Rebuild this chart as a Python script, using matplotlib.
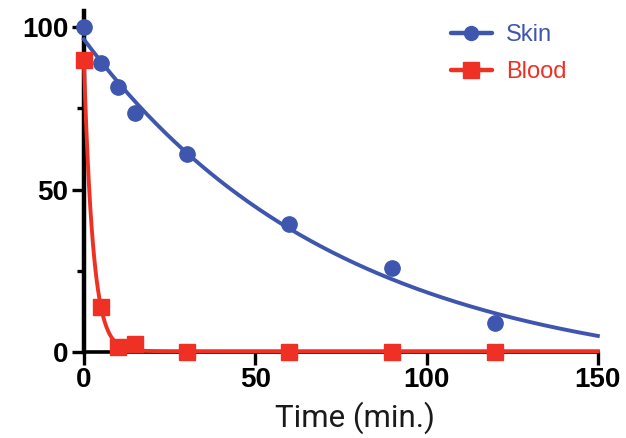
import numpy as np
import matplotlib
matplotlib.use("Agg")
import matplotlib.pyplot as plt
from matplotlib.ticker import MultipleLocator

# Data
time_min = [0, 5, 10, 15, 30, 60, 90, 120]
skin = [100, 89, 81.5, 73.5, 61, 39.5, 26, 9]
blood = [90, 14, 1.5, 2.5, 0, 0, 0, 0]
labels = ["Skin", "Blood"]
x_ticks = [0, 50, 100, 150]
y_ticks = [0, 50, 100]

BLUE = "#3E56AE"
RED = "#EE3124"


def one_phase_fit(t, y, k_grid):
    """Least-squares one-phase exponential decay (Y = P + (Y0-P)exp(-kt))."""
    t = np.asarray(t, float)
    y = np.asarray(y, float)
    best = None
    for k in k_grid:
        A = np.column_stack([np.ones_like(t), np.exp(-k * t)])
        coef, *_ = np.linalg.lstsq(A, y, rcond=None)
        r = np.sum((A @ coef - y) ** 2)
        if best is None or r < best[0]:
            best = (r, k, coef)
    _, k, (a, b) = best
    return lambda tt: a + b * np.exp(-k * tt)


fig = plt.figure(figsize=(6.26, 4.38), dpi=100)
ax = fig.add_axes([0.134, 0.196, 0.821, 0.779])

tt = np.linspace(0, 150, 400)
skin_fit = one_phase_fit(time_min, skin, np.linspace(0.001, 0.1, 2000))
blood_fit = one_phase_fit(time_min, blood, np.linspace(0.05, 1.5, 3000))

ax.plot(tt, skin_fit(tt), color=BLUE, lw=2.8, zorder=3, clip_on=False)
ax.plot(tt, blood_fit(tt), color=RED, lw=2.8, zorder=3, clip_on=False)
ax.plot(time_min, skin, "o", color=BLUE, ms=11, zorder=4, clip_on=False)
ax.plot(time_min, blood, "s", color=RED, ms=11, zorder=4, clip_on=False)

# legend handles
h1, = ax.plot([], [], "-o", color=BLUE, lw=3.2, ms=10, label=labels[0],
              solid_capstyle="round")
h2, = ax.plot([], [], "-s", color=RED, lw=3.2, ms=11, label=labels[1],
              solid_capstyle="round")
leg = ax.legend(handles=[h1, h2], loc="upper left", bbox_to_anchor=(0.672, 1.024),
                frameon=False, handlelength=1.75, handletextpad=0.6,
                labelspacing=0.65, prop={"family": "Liberation Sans", "size": 17})
for txt, c in zip(leg.get_texts(), [BLUE, RED]):
    txt.set_color(c)

ax.set_xlim(0, 150)
ax.set_ylim(0, 105)
ax.set_xticks(x_ticks)
ax.set_yticks(y_ticks)
ax.yaxis.set_minor_locator(MultipleLocator(25))

for s in ["top", "right"]:
    ax.spines[s].set_visible(False)
ax.spines["left"].set_linewidth(3.2)
ax.spines["bottom"].set_linewidth(2.6)
ax.spines["left"].set_bounds(0, 105)

ax.tick_params(axis="both", which="major", direction="out", length=9, width=2.4,
               labelsize=20, pad=2)
ax.tick_params(axis="y", which="minor", direction="out", length=5, width=2.4)
for lab in ax.get_xticklabels() + ax.get_yticklabels():
    lab.set_fontfamily("Liberation Sans")
    lab.set_fontweight("bold")

ax.set_xlabel("Time (min.)", fontsize=22.5, family="Roboto", fontweight="normal",
              color="#1a1a1a")
ax.xaxis.set_label_coords(0.527, -0.145)

fig.savefig("out.png", dpi=100)
